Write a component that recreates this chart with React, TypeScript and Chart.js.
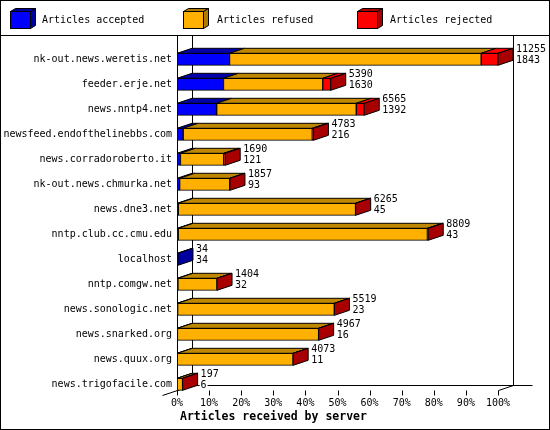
import React, { useEffect, useRef } from 'react';
import { Chart, registerables } from 'chart.js';

Chart.register(...registerables);

const servers = [
  'nk-out.news.weretis.net',
  'feeder.erje.net',
  'news.nntp4.net',
  'newsfeed.endofthelinebbs.com',
  'news.corradoroberto.it',
  'nk-out.news.chmurka.net',
  'news.dne3.net',
  'nntp.club.cc.cmu.edu',
  'localhost',
  'nntp.comgw.net',
  'news.sonologic.net',
  'news.snarked.org',
  'news.quux.org',
  'news.trigofacile.com',
];
const accepted = [1843, 1630, 1392, 216, 121, 93, 45, 43, 34, 32, 23, 16, 11, 6];
const refused = [8822, 3480, 4893, 4527, 1519, 1759, 6215, 8736, 0, 1370, 5494, 4949, 4060, 189];
const rejected = [590, 280, 280, 40, 50, 5, 5, 30, 0, 2, 2, 2, 2, 2];

const seriesLabels = ['Articles accepted', 'Articles refused', 'Articles rejected'];
const frontColors = ['#0000ff', '#ffb000', '#ff0000'];
const topColors = ['#0000a8', '#c08800', '#ff0000'];
const sideColors = ['#0000a0', '#b07c00', '#a80000'];
const xTickValues = [0, 10, 20, 30, 40, 50, 60, 70, 80, 90, 100];
const axisTitle = 'Articles received by server';

const series = [accepted, refused, rejected];
const totals = servers.map((_, i) => accepted[i] + refused[i] + rejected[i]);
const maxTotal = Math.max(...totals);
const toPct = (arr: number[]) => arr.map((v) => (v === 0 ? null : (v / maxTotal) * 100));

const FONT = "'DejaVu Sans Mono', monospace";
const DX = 15;
const DY = 5;
const HALF = 6;

function line(ctx: CanvasRenderingContext2D, x1: number, y1: number, x2: number, y2: number) {
  ctx.beginPath();
  ctx.moveTo(x1, y1);
  ctx.lineTo(x2, y2);
  ctx.stroke();
}

function poly(ctx: CanvasRenderingContext2D, pts: number[][], fill: string) {
  ctx.beginPath();
  ctx.moveTo(pts[0][0], pts[0][1]);
  for (let i = 1; i < pts.length; i++) ctx.lineTo(pts[i][0], pts[i][1]);
  ctx.closePath();
  ctx.fillStyle = fill;
  ctx.fill();
  ctx.stroke();
}

const innPlugin = {
  id: 'inn3d',
  beforeDraw(chart: any) {
    const ctx: CanvasRenderingContext2D = chart.ctx;
    const xs = chart.scales.x;
    const ys = chart.scales.y;
    ctx.save();
    ctx.fillStyle = '#fff';
    ctx.fillRect(0, 0, chart.width, chart.height);
    ctx.strokeStyle = '#000';
    ctx.lineWidth = 1;
    const x0 = Math.round(xs.getPixelForValue(0)) + 0.5;
    const x100 = Math.round(xs.getPixelForValue(100)) + 0.5;
    const floor = Math.round(ys.getPixelForValue(servers.length - 1) + HALF) + 0.5;
    const top = 35.5;
    line(ctx, x0, top, x0, floor);
    line(ctx, x0 + DX, top, x0 + DX, floor - DY);
    line(ctx, x100 + DX, top, x100 + DX, floor - DY);
    line(ctx, x0 + DX, floor - DY, x100 + DX + 19, floor - DY);
    line(ctx, x0 - 15, floor + 5, x0 + DX, floor - DY);
    line(ctx, x100, floor, x100 + DX, floor - DY);
    for (const v of xTickValues) {
      const px = Math.round(xs.getPixelForValue(v)) + 0.5;
      line(ctx, px, floor, px, floor + 5);
    }
    ctx.restore();
  },
  afterDatasetsDraw(chart: any) {
    const ctx: CanvasRenderingContext2D = chart.ctx;
    const xs = chart.scales.x;
    const ys = chart.scales.y;
    ctx.save();
    ctx.strokeStyle = '#000';
    ctx.lineWidth = 1;
    servers.forEach((_, i) => {
      const yc = ys.getPixelForValue(i);
      const yt = yc - HALF;
      const yb = yc + HALF;
      let cum = 0;
      let lastK = -1;
      let lastL = 0;
      let lastR = 0;
      series.forEach((arr, k) => {
        const v = arr[i];
        if (v <= 0) return;
        const xl = xs.getPixelForValue((cum / maxTotal) * 100);
        cum += v;
        const xr = xs.getPixelForValue((cum / maxTotal) * 100);
        poly(ctx, [[xl, yt], [xl + DX, yt - DY], [xr + DX, yt - DY], [xr, yt]], topColors[k]);
        lastK = k;
        lastL = xl;
        lastR = xr;
      });
      if (lastK >= 0) {
        poly(ctx, [[lastR, yt], [lastR + DX, yt - DY], [lastR + DX, yb - DY], [lastR, yb]], sideColors[lastK]);
      }
      // value labels
      const xEnd = xs.getPixelForValue((totals[i] / maxTotal) * 100) + DX + 3;
      ctx.font = '10px ' + FONT;
      ctx.textBaseline = 'middle';
      ctx.textAlign = 'left';
      const texts = [String(totals[i]), String(accepted[i])];
      const ys2 = [yc - 9.5, yc + 1.5];
      texts.forEach((t, j) => {
        const w = ctx.measureText(t).width;
        ctx.fillStyle = '#fff';
        ctx.fillRect(xEnd - 1, ys2[j] - 5, w + 2, 10);
        ctx.fillStyle = '#000';
        ctx.fillText(t, xEnd, ys2[j]);
      });
    });
    ctx.restore();
  },
  afterDraw(chart: any) {
    const ctx: CanvasRenderingContext2D = chart.ctx;
    ctx.save();
    ctx.strokeStyle = '#000';
    ctx.lineWidth = 1;
    // legend
    const legendX = [10, 183, 357];
    const textX = [42, 217, 390];
    seriesLabels.forEach((lab, k) => {
      const x = legendX[k];
      const y = 11;
      const w = 20;
      const h = 17;
      poly(ctx, [[x + 0.5, y + 0.5], [x + 5.5, y - 2.5], [x + w + 5.5, y - 2.5], [x + w + 0.5, y + 0.5]], sideColors[k]);
      poly(ctx, [[x + w + 0.5, y + 0.5], [x + w + 5.5, y - 2.5], [x + w + 5.5, y + h - 2.5], [x + w + 0.5, y + h + 0.5]], sideColors[k]);
      ctx.fillStyle = frontColors[k];
      ctx.fillRect(x + 0.5, y + 0.5, w, h);
      ctx.strokeRect(x + 0.5, y + 0.5, w, h);
      ctx.fillStyle = '#000';
      ctx.font = '10px ' + FONT;
      ctx.textBaseline = 'middle';
      ctx.textAlign = 'left';
      ctx.fillText(lab, textX[k], 20);
    });
    line(ctx, 0, 35.5, chart.width, 35.5);
    // axis title
    ctx.font = 'bold 11.5px ' + FONT;
    ctx.fillStyle = '#000';
    ctx.textBaseline = 'middle';
    ctx.textAlign = 'left';
    ctx.fillText(axisTitle, chart.chartArea.left + 3, 417);
    // frame
    ctx.strokeRect(0.5, 0.5, chart.width - 1, chart.height - 1);
    ctx.restore();
  },
};

export default function App() {
  const ref = useRef<HTMLCanvasElement | null>(null);
  useEffect(() => {
    document.body.style.margin = '0';
    const canvas = ref.current;
    if (!canvas) return;
    const chart = new Chart(canvas, {
      type: 'bar',
      data: {
        labels: servers,
        datasets: series.map((arr, k) => ({
          label: seriesLabels[k],
          data: toPct(arr),
          backgroundColor: frontColors[k],
          borderColor: '#000',
          borderWidth: 1,
          borderSkipped: false,
          barThickness: 12,
        })),
      },
      options: {
        indexAxis: 'y',
        responsive: false,
        animation: false,
        devicePixelRatio: 1,
        layout: { padding: { top: 46.8, right: 52, left: 0, bottom: 0 } },
        plugins: { legend: { display: false }, tooltip: { enabled: false } },
        scales: {
          x: {
            type: 'linear',
            stacked: true,
            min: 0,
            max: 100,
            grid: { display: false, drawTicks: false },
            border: { display: false },
            ticks: {
              stepSize: 10,
              padding: 1,
              maxRotation: 0,
              autoSkip: false,
              color: '#000',
              font: { family: FONT, size: 10 },
              callback: (v: any) => v + '%',
            },
            afterFit: (s: any) => {
              s.height = 33.2;
            },
          },
          y: {
            type: 'category',
            stacked: true,
            grid: { display: false, drawTicks: false },
            border: { display: false },
            ticks: {
              padding: 5,
              autoSkip: false,
              color: '#000',
              font: { family: FONT, size: 10 },
            },
            afterFit: (s: any) => {
              s.width = 177;
            },
          },
        },
      },
      plugins: [innPlugin],
    } as any);
    return () => chart.destroy();
  }, []);
  return <canvas ref={ref} width={550} height={430} style={{ display: 'block' }} />;
}
